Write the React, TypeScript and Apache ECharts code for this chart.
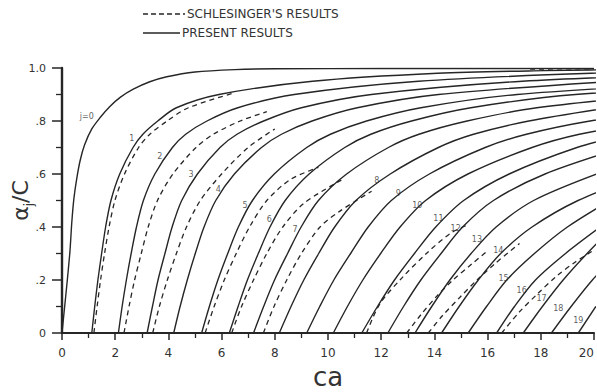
import React, { useEffect, useRef } from "react";
import * as echarts from "echarts";

// ---- Present results (solid), one array of [ca, alpha_j/C] per j ----
const present0 = [[0,0],[0.1,0.1],[0.2,0.2],[0.3,0.31],[0.37,0.42],[0.45,0.51],[0.55,0.58],[0.68,0.65],[0.85,0.71],[1.12,0.77],[1.45,0.815],[1.8,0.855],[2.2,0.89],[2.68,0.92],[3.3,0.948],[3.94,0.967],[5,0.985],[6.5,0.994],[8,0.997],[12,0.998],[20,0.998]];
const present1 = [[1.12,0],[1.23,0.1],[1.35,0.2],[1.49,0.3],[1.64,0.4],[1.84,0.5],[2.17,0.6],[2.67,0.7],[3.04,0.75],[3.6,0.8],[4.3,0.85],[5.9,0.9],[9.42,0.95],[14.12,0.98],[18.12,0.99],[22.12,0.995]];
const present2 = [[2.12,0],[2.26,0.1],[2.42,0.2],[2.6,0.3],[2.8,0.4],[3.06,0.5],[3.49,0.6],[4.15,0.7],[4.65,0.75],[5.45,0.8],[6.61,0.85],[8.73,0.9],[13.4,0.95],[19.9,0.98],[25.4,0.99]];
const present3 = [[3.2,0],[3.4,0.1],[3.61,0.2],[3.87,0.3],[4.14,0.4],[4.5,0.5],[5.09,0.6],[5.94,0.7],[6.58,0.75],[7.58,0.8],[9.0,0.85],[11.63,0.9],[17.3,0.95],[25,0.98]];
const present4 = [[4.2,0],[4.44,0.1],[4.71,0.2],[5.01,0.3],[5.34,0.4],[5.78,0.5],[6.48,0.6],[7.5,0.7],[8.25,0.75],[9.4,0.8],[11.1,0.85],[14.15,0.9],[20.8,0.95]];
const present5 = [[5.25,0],[5.54,0.1],[5.86,0.2],[6.23,0.3],[6.63,0.4],[7.16,0.5],[7.98,0.6],[9.2,0.7],[10.09,0.75],[11.45,0.8],[13.49,0.85],[17.11,0.9],[25.2,0.95]];
const present6 = [[6.29,0],[6.62,0.1],[6.97,0.2],[7.38,0.3],[7.82,0.4],[8.39,0.5],[9.29,0.6],[10.63,0.7],[11.61,0.75],[13.14,0.8],[15.37,0.85],[19.3,0.9],[28.3,0.95]];
const present7 = [[7.2,0],[7.58,0.1],[7.99,0.2],[8.48,0.3],[8.99,0.4],[9.64,0.5],[10.7,0.6],[12.27,0.7],[13.42,0.75],[15.23,0.8],[17.85,0.85],[22.6,0.9]];
const present8 = [[8.17,0],[8.61,0.1],[9.09,0.2],[9.65,0.3],[10.25,0.4],[11.05,0.5],[12.34,0.6],[14.15,0.7],[15.47,0.75],[17.55,0.8],[20.57,0.85]];
const present9 = [[9.2,0],[9.69,0.1],[10.22,0.2],[10.85,0.3],[11.51,0.4],[12.38,0.5],[13.81,0.6],[15.91,0.7],[17.46,0.75],[19.85,0.8],[23.4,0.85]];
const present10 = [[10.2,0],[10.73,0.1],[11.31,0.2],[11.98,0.3],[12.71,0.4],[13.67,0.5],[15.26,0.6],[17.67,0.7],[19.45,0.75],[22.25,0.8]];
const present11 = [[11.27,0],[11.86,0.1],[12.5,0.2],[13.25,0.3],[14.05,0.4],[15.1,0.5],[16.81,0.6],[19.36,0.7],[21.25,0.75]];
const present12 = [[12.25,0],[12.84,0.1],[13.49,0.2],[14.25,0.3],[15.06,0.4],[16.22,0.5],[18.16,0.6],[21.09,0.7]];
const present13 = [[13.27,0],[13.9,0.1],[14.58,0.2],[15.38,0.3],[16.32,0.4],[17.73,0.5],[20.1,0.6]];
const present14 = [[14.27,0],[14.93,0.1],[15.65,0.2],[16.49,0.3],[17.67,0.4],[19.4,0.5],[21.88,0.6]];
const present15 = [[15.27,0],[15.96,0.1],[16.72,0.2],[17.76,0.3],[19.0,0.4],[20.6,0.5]];
const present16 = [[16.34,0],[17.01,0.1],[17.8,0.2],[18.93,0.3],[20.24,0.4]];
const present17 = [[17.34,0],[18.06,0.1],[18.84,0.2],[19.74,0.3],[20.72,0.4]];
const present18 = [[18.4,0],[19.14,0.1],[19.94,0.2],[20.88,0.3]];
const present19 = [[19.41,0],[20.07,0.1]];

// ---- Schlesinger's results (dashed) ----
const schles1 = [[1.2,0],[1.32,0.1],[1.45,0.2],[1.6,0.3],[1.77,0.4],[1.99,0.5],[2.35,0.6],[2.88,0.7],[3.3,0.75],[3.95,0.8],[4.75,0.85],[6.45,0.905]];
const schles2 = [[2.33,0],[2.52,0.1],[2.73,0.2],[2.98,0.3],[3.24,0.4],[3.59,0.5],[4.17,0.6],[5.04,0.7],[5.69,0.75],[6.7,0.8],[7.7,0.835]];
const schles3 = [[3.41,0],[3.66,0.1],[3.96,0.2],[4.3,0.3],[4.68,0.4],[5.2,0.5],[6.0,0.6],[7.0,0.7],[8.0,0.77]];
const schles5 = [[5.38,0],[5.72,0.1],[6.1,0.2],[6.55,0.3],[7.05,0.4],[7.7,0.5],[8.6,0.58],[9.64,0.625]];
const schles6 = [[6.38,0],[6.75,0.1],[7.2,0.2],[7.7,0.3],[8.3,0.4],[9.1,0.49],[10.5,0.577]];
const schles7 = [[7.57,0],[7.97,0.1],[8.45,0.2],[9.0,0.3],[9.7,0.4],[10.45,0.46],[11.64,0.535]];
const schlesA = [[11.45,0],[11.95,0.11],[12.8,0.21],[13.7,0.3],[14.6,0.376],[15.3,0.41]];
const schlesB = [[12.96,0],[13.5,0.07],[14.1,0.14],[14.7,0.2],[15.4,0.26],[16.0,0.31]];
const schlesC = [[13.77,0],[14.3,0.065],[14.96,0.135],[15.6,0.2],[16.28,0.262],[17.2,0.338]];
const schlesD = [[16.53,0],[17.2,0.08],[17.9,0.15],[18.6,0.215],[19.3,0.268],[20,0.313]];
const schlesE = [[17.6,0.996],[20,0.997]];

// ---- Curve labels ----
const curveLabelText = ["j=0","1","2","3","4","5","6","7","8","9","10","11","12","13","14","15","16","17","18","19"];
const curveLabelX = [0.93,2.62,3.68,4.85,5.88,6.88,7.79,8.76,11.83,12.64,13.36,14.15,14.8,15.6,16.4,16.6,17.28,18.03,18.66,19.41];
const curveLabelY = [0.816,0.735,0.665,0.598,0.54,0.483,0.43,0.39,0.577,0.527,0.483,0.433,0.395,0.351,0.31,0.206,0.162,0.131,0.093,0.049];

const legendTexts = ["SCHLESINGER'S RESULTS", "PRESENT RESULTS"];

const presentAll = [present0,present1,present2,present3,present4,present5,present6,present7,present8,present9,present10,present11,present12,present13,present14,present15,present16,present17,present18,present19];
const schlesAll = [schles1,schles2,schles3,schles5,schles6,schles7,schlesA,schlesB,schlesC,schlesD,schlesE];

const INK = "#262626";

export default function App() {
  const ref = useRef<HTMLDivElement>(null);
  useEffect(() => {
    if (!ref.current) return;
    const chart = echarts.init(ref.current, undefined, { renderer: "svg" });
    const series: any[] = [];
    presentAll.forEach((d, i) => {
      series.push({
        type: "line", name: "present" + i, data: d, smooth: 0.3, symbol: "none", clip: true,
        lineStyle: { color: INK, width: 1.4 }, silent: true, z: 3,
      });
    });
    schlesAll.forEach((d, i) => {
      series.push({
        type: "line", name: "schles" + i, data: d, smooth: 0.3, symbol: "none", clip: true,
        lineStyle: { color: INK, width: 1.3, type: [5, 4] }, silent: true, z: 2,
      });
    });
    series.push({
      type: "scatter", name: "labels", symbolSize: 0, silent: true, z: 5,
      data: curveLabelText.map((t, i) => [curveLabelX[i], curveLabelY[i], t]),
      label: {
        show: true, position: "inside", formatter: (p: any) => p.value[2],
        fontSize: 8, color: "#333", fontFamily: "DejaVu Sans",
      },
    });
    chart.setOption({
      animation: false,
      backgroundColor: "#ffffff",
      grid: { left: 62, right: 3, top: 68, bottom: 59, containLabel: false, outerBoundsMode: "none" },
      xAxis: {
        type: "value", min: 0, max: 20, interval: 2,
        axisLine: { show: true, lineStyle: { color: INK, width: 2 } },
        axisTick: { show: true, length: 7, lineStyle: { color: INK, width: 1.5 } },
        minorTick: { show: true, splitNumber: 2, length: 5, lineStyle: { color: INK, width: 1.3 } },
        splitLine: { show: false },
        minorSplitLine: { show: false },
        axisLabel: {
          color: "#333", fontSize: 12, margin: 14, fontFamily: "DejaVu Sans", alignMaxLabel: "right",
        },
        name: "ca", nameLocation: "middle", nameGap: 31, nameMoveOverlap: false,
        nameTextStyle: { fontSize: 26, color: "#333", fontFamily: "DejaVu Sans" },
      },
      yAxis: {
        type: "value", min: 0, max: 1, interval: 0.2,
        axisLine: { show: true, lineStyle: { color: INK, width: 2.4 } },
        axisTick: { show: true, length: 10, lineStyle: { color: INK, width: 1.5 } },
        minorTick: { show: true, splitNumber: 2, length: 6, lineStyle: { color: INK, width: 1.3 } },
        splitLine: { show: false },
        minorSplitLine: { show: false },
        axisLabel: {
          formatter: (v: number) => {
            const t = Math.round(v * 10);
            if (t === 0) return "0";
            if (t === 10) return "1.0";
            return "." + t;
          },
          color: "#333", fontSize: 11, margin: 16, fontFamily: "DejaVu Sans",
        },
        name: "{a|α}{s|j}{a|/C}", nameLocation: "middle", nameGap: 31, nameRotate: 90, nameMoveOverlap: false,
        nameTextStyle: {
          color: "#333",
          rich: {
            a: { fontSize: 22, fontFamily: "DejaVu Sans", color: "#333" },
            s: { fontSize: 12, fontFamily: "DejaVu Sans", color: "#333", verticalAlign: "bottom", padding: [0, 0, -4, 0] },
          },
        },
      },
      graphic: [
        { type: "line", shape: { x1: 143, y1: 14, x2: 185, y2: 14 }, style: { stroke: INK, lineWidth: 1.3, lineDash: [5, 3] } },
        { type: "text", x: 187, y: 14, style: { text: legendTexts[0], fontSize: 12, fill: "#333", fontFamily: "DejaVu Sans", textVerticalAlign: "middle" } },
        { type: "line", shape: { x1: 143, y1: 33, x2: 180, y2: 33 }, style: { stroke: INK, lineWidth: 1.3 } },
        { type: "text", x: 182, y: 33, style: { text: legendTexts[1], fontSize: 12, fill: "#333", fontFamily: "DejaVu Sans", textVerticalAlign: "middle" } },
      ],
      series,
    });
    return () => chart.dispose();
  }, []);
  return <div ref={ref} style={{ position: "fixed", left: 0, top: 0, width: 597, height: 392 }} />;
}
